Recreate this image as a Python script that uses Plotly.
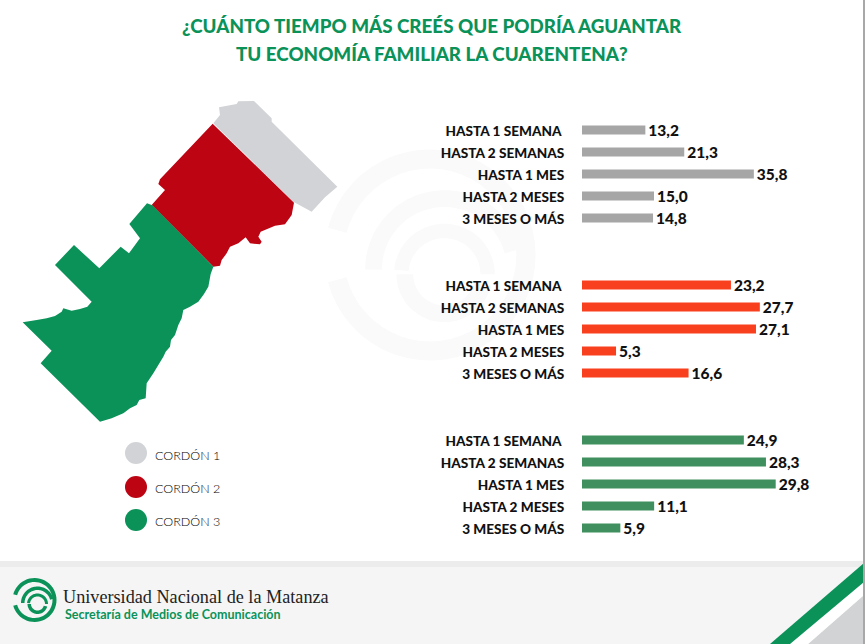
import math
import plotly.graph_objects as go
from plotly.subplots import make_subplots

categories = ["HASTA 1 SEMANA\u00a0", "HASTA 2 SEMANAS", "HASTA 1 MES", "HASTA 2 MESES", "3 MESES O MÁS"]
cordon1 = [13.2, 21.3, 35.8, 15.0, 14.8]
cordon2 = [23.2, 27.7, 27.1, 5.3, 16.6]
cordon3 = [24.9, 28.3, 29.8, 11.1, 5.9]
legend_labels = ["CORDÓN 1", "CORDÓN 2", "CORDÓN 3"]
title_lines = ["¿CUÁNTO TIEMPO MÁS CREÉS QUE PODRÍA AGUANTAR", "TU ECONOMÍA FAMILIAR LA CUARENTENA?"]

W, H = 866, 644
GREEN = "#0a9259"
px = lambda x: x / W
py = lambda y: 1 - y / H

def ppath(pts):
    return "M" + "L".join(f"{px(x):.5f},{py(y):.5f}" for x, y in pts) + "Z"

def zpath(pts):
    return ppath([(x / 3, 90 + y / 3) for x, y in pts])

def arc_pts(cx, cy, ro, ri, a0, a1, n=48):
    angs = [math.radians(a0 + (a1 - a0) * k / n) for k in range(n + 1)]
    outer = [(cx + ro * math.cos(a), cy - ro * math.sin(a)) for a in angs]
    inner = [(cx + ri * math.cos(a), cy - ri * math.sin(a)) for a in reversed(angs)]
    return outer + inner

def logo_shapes(cx, cy, s, col, layer):
    parts = [
        (0, 0, 22, 18, 195, 525),
        (3, 3, 16.5, 13, 180, 15),
        (3, 4, 10.5, 7.5, 175, 0),
        (3, 4, 10, 6.5, 180, 345),
    ]
    out = []
    for dx, dy, ro, ri, a0, a1 in parts:
        pts = arc_pts(cx + dx * s, cy + dy * s, ro * s, ri * s, a0, a1)
        out.append(dict(type="path", xref="paper", yref="paper", path=ppath(pts), fillcolor=col, line_width=0, layer=layer))
    return out

grey_map = [(640,100),(660,75),(657,52),(710,42),(715,34),(762,33),(815,85),(815,95),(1012,290),(975,322),(935,365),(880,335)]
red_map = [(638,101),(882,338),(875,375),(855,403),(825,407),(782,425),(775,440),(785,455),(780,463),(750,460),(737,442),(715,460),(690,470),(680,490),(665,510),(660,527),(640,530),(455,345),(495,300),(475,282),(480,268)]
green_map = [(441,340),(457,346),(640,530),(632,552),(625,590),(612,612),(595,635),(570,650),(550,660),(545,685),(535,705),(525,735),(513,750),(510,770),(497,785),(490,800),(475,825),(460,850),(443,875),(440,880),(437,925),(418,930),(410,945),(390,955),(370,970),(335,985),(300,995),(122,820),(155,782),(68,697),(110,690),(140,685),(165,678),(185,665),(190,655),(215,662),(240,657),(262,650),(275,635),(165,525),(222,465),(298,535),(362,470),(387,490),(420,445),(388,402)]

doms = [(119, 229), (274, 384), (429, 539)]
fig = make_subplots(rows=3, cols=1)
series = [(cordon1, "#a6a6a6", 4.8), (cordon2, "#f9401e", 6.42), (cordon3, "#3f8f5f", 6.5)]
for i, ((vals, col, scale), (top, bot)) in enumerate(zip(series, doms), start=1):
    fig.add_trace(go.Bar(
        x=vals, y=categories, orientation="h", marker=dict(color=col, line_width=0), width=0.41,
        text=[f"{v:.1f}".replace(".", ",") for v in vals], textposition="outside", cliponaxis=False,
        constraintext="none",
        textfont=dict(family="Lato", size=15.5, color="#111", weight=900), hoverinfo="skip"), row=i, col=1)
    fig.update_xaxes(row=i, col=1, domain=[px(582), px(582 + 240)], range=[0, 240 / scale], visible=False)
    fig.update_yaxes(row=i, col=1, domain=[py(bot), py(top)], autorange="reversed", showgrid=False,
                     showline=False, ticks="outside", ticklen=14, tickcolor="rgba(0,0,0,0)", tickwidth=0,
                     ticklabelshift=-1,
                     tickfont=dict(family="Lato", size=13.6, color="#111", weight=900))

shapes = []
shapes += logo_shapes(430, 255, 4.8, "#fafafa", "below")
for pts, col in [(grey_map, "#d1d3d6"), (red_map, "#bd0413"), (green_map, GREEN)]:
    shapes.append(dict(type="path", xref="paper", yref="paper", path=zpath(pts), fillcolor=col, line_width=0, layer="above"))
for yc, col in [(453, "#d1d3d6"), (487, "#bd0413"), (520, GREEN)]:
    shapes.append(dict(type="circle", xref="paper", yref="paper", x0=px(125), x1=px(147), y0=py(yc + 11), y1=py(yc - 11),
                       fillcolor=col, line_width=0))
shapes.append(dict(type="rect", xref="paper", yref="paper", x0=0, x1=px(864), y0=0, y1=py(561), fillcolor="#f5f5f5", line_width=0, layer="below"))
shapes.append(dict(type="rect", xref="paper", yref="paper", x0=0, x1=px(864), y0=py(567), y1=py(561), fillcolor="#ececec", line_width=0, layer="below"))
shapes.append(dict(type="path", xref="paper", yref="paper", path=ppath([(864,595),(808,644),(864,644)]), fillcolor="#d1d3d4", line_width=0))
shapes.append(dict(type="path", xref="paper", yref="paper", path=ppath([(864,582),(790,644),(808,644),(864,595)]), fillcolor="#ffffff", line_width=0))
shapes.append(dict(type="path", xref="paper", yref="paper", path=ppath([(864,563),(770,644),(790,644),(864,582)]), fillcolor=GREEN, line_width=0))
shapes.append(dict(type="rect", xref="paper", yref="paper", x0=px(863), x1=px(865), y0=0, y1=1, fillcolor="#a8a8a8", line_width=0))
shapes += logo_shapes(34.5, 600, 1, GREEN, "above")

ann = []
for line, y in zip(title_lines, [25, 53]):
    ann.append(dict(text=line, xref="paper", yref="paper", x=px(432), y=py(y), showarrow=False, xanchor="center", yanchor="middle",
                    font=dict(family="Lato", size=18.8, color=GREEN, weight=900)))
for lab, y in zip(legend_labels, [455, 488, 521]):
    ann.append(dict(text=lab, xref="paper", yref="paper", x=px(153), y=py(y), showarrow=False, xanchor="left", yanchor="middle",
                    font=dict(family="Lato", size=12.5, color="#000", weight=300)))
ann.append(dict(text="Universidad Nacional de la Matanza", xref="paper", yref="paper", x=px(61), y=py(597), showarrow=False, xanchor="left", yanchor="middle",
                font=dict(family="Liberation Serif", size=18.2, color="#222")))
ann.append(dict(text="Secretaría de Medios de Comunicación", xref="paper", yref="paper", x=px(63), y=py(614), showarrow=False, xanchor="left", yanchor="middle",
                font=dict(family="Lato", size=12.5, color=GREEN, weight=700)))

fig.update_layout(width=W, height=H, margin=dict(l=0, r=0, t=0, b=0), showlegend=False, plot_bgcolor="rgba(0,0,0,0)",
                  paper_bgcolor="white", shapes=shapes, annotations=ann)
fig.write_html("out.html", config={"displayModeBar": False}, post_script="document.body.style.margin='0';")
